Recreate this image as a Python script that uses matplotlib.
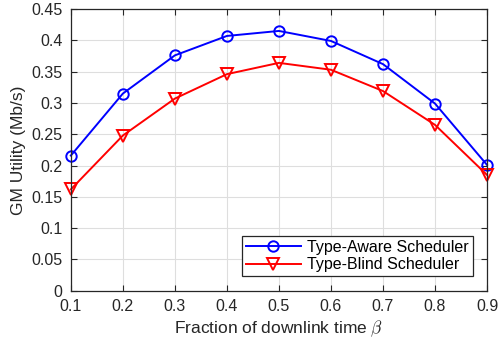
import matplotlib
matplotlib.use('Agg')
import matplotlib.pyplot as plt

# data
beta = [0.1, 0.2, 0.3, 0.4, 0.5, 0.6, 0.7, 0.8, 0.9]
type_aware = [0.216, 0.315, 0.376, 0.407, 0.415, 0.399, 0.362, 0.299, 0.201]
type_blind = [0.162, 0.248, 0.307, 0.346, 0.364, 0.353, 0.319, 0.265, 0.185]
xticks = [0.1, 0.2, 0.3, 0.4, 0.5, 0.6, 0.7, 0.8, 0.9]
yticks = [0, 0.05, 0.1, 0.15, 0.2, 0.25, 0.3, 0.35, 0.4, 0.45]

plt.rcParams['font.family'] = ['Liberation Sans', 'DejaVu Sans']
plt.rcParams['mathtext.fontset'] = 'cm'
dark = '#262626'

fig = plt.figure(figsize=(4.99, 3.47), dpi=100)
ax = fig.add_axes([0.142, 0.162, 0.834, 0.812])

ax.plot(beta, type_aware, color='b', marker='o', markersize=7.5, markerfacecolor='none',
        markeredgewidth=1.4, linewidth=1.4, label='Type-Aware Scheduler', clip_on=False)
ax.plot(beta, type_blind, color='r', marker='v', markersize=8.5, markerfacecolor='none',
        markeredgewidth=1.4, linewidth=1.4, label='Type-Blind Scheduler', clip_on=False)

ax.set_xlim(0.1, 0.9)
ax.set_ylim(0, 0.45)
ax.set_xticks(xticks)
ax.set_xticklabels([f'{t:g}' for t in xticks])
ax.set_yticks(yticks)
ax.set_yticklabels([f'{t:g}' for t in yticks])
ax.grid(True, color='#dedede', linewidth=0.8)
ax.set_axisbelow(True)
ax.tick_params(direction='in', top=True, right=True, labelsize=11.5, colors=dark,
               length=4, width=0.8, pad=6)
for s in ax.spines.values():
    s.set_color(dark)
    s.set_linewidth(0.9)

ax.set_xlabel(r'Fraction of downlink time $\beta$', fontsize=12.5, color=dark, labelpad=3)
ax.set_ylabel('GM Utility (Mb/s)', fontsize=12.5, color=dark, labelpad=4)

leg = ax.legend(loc='lower right', fontsize=11.5, fancybox=False, framealpha=1,
                edgecolor=dark, borderaxespad=0.9, handlelength=3.4, borderpad=0.25,
                labelspacing=0.15, handletextpad=0.4)
leg.get_frame().set_linewidth(0.9)
for t in leg.get_texts():
    t.set_color('black')

fig.savefig('out.png', dpi=100)
